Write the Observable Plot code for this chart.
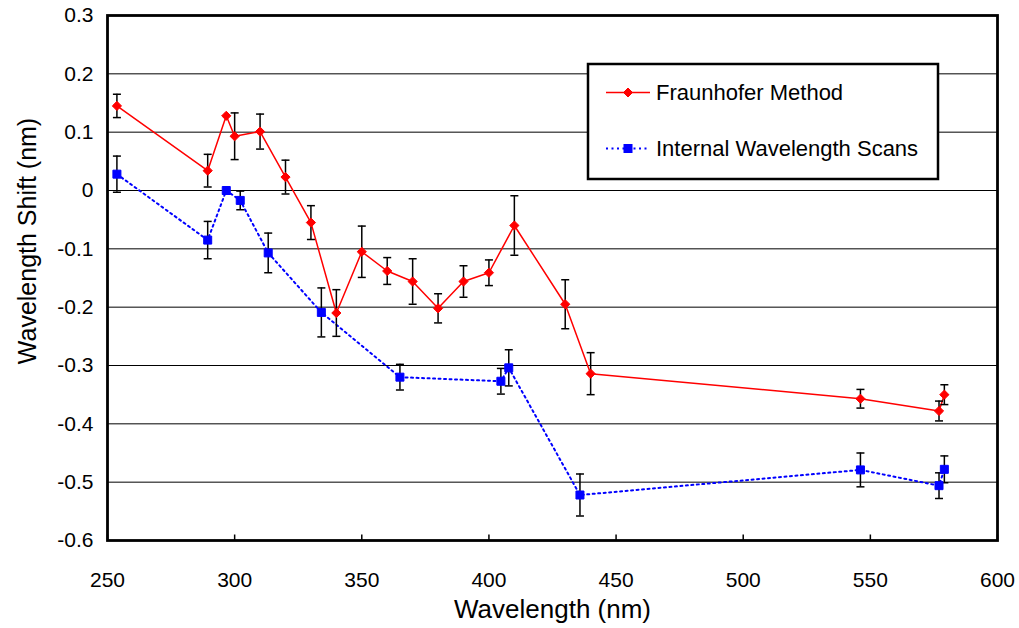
<!DOCTYPE html>
<html>
<head>
<meta charset="utf-8">
<script src="https://cdn.jsdelivr.net/npm/d3@7"></script>
<script src="https://cdn.jsdelivr.net/npm/@observablehq/plot@0.6"></script>
<style>
  html, body { margin: 0; padding: 0; background: #fff; }
  #wrap { position: relative; width: 1019px; height: 628px; font-family: "Liberation Sans", Arial, sans-serif; }
  #legend { position: absolute; left: 0; top: 0; }
</style>
</head>
<body>
<div id="wrap"></div>
<script>
// ---- data ----
const xTicks = [250, 300, 350, 400, 450, 500, 550, 600];
const yTicks = [0.3, 0.2, 0.1, 0, -0.1, -0.2, -0.3, -0.4, -0.5, -0.6];

const seriesNames = ["Fraunhofer Method", "Internal Wavelength Scans"];

const fraunWl    = [253.7, 289.4, 296.7, 300, 310, 320, 330, 340, 350, 360, 370, 380, 390, 400, 410, 430, 440, 546.1, 577.0, 579.1];
const fraunShift = [0.145, 0.034, 0.128, 0.093, 0.101, 0.023, -0.055, -0.210, -0.105, -0.138, -0.156, -0.202, -0.156, -0.141, -0.060, -0.195, -0.314, -0.357, -0.378, -0.350];
const fraunErr   = [0.020, 0.028, 0, 0.040, 0.030, 0.029, 0.029, 0.040, 0.044, 0.023, 0.039, 0.025, 0.027, 0.022, 0.051, 0.042, 0.036, 0.016, 0.017, 0.017];

const scanWl    = [253.7, 289.4, 296.7, 302.2, 313.2, 334.1, 365.0, 404.7, 407.8, 435.8, 546.1, 577.0, 579.1];
const scanShift = [0.028, -0.085, 0.000, -0.017, -0.107, -0.209, -0.320, -0.327, -0.304, -0.522, -0.479, -0.506, -0.478];
const scanErr   = [0.031, 0.032, 0, 0.016, 0.034, 0.042, 0.022, 0.022, 0.031, 0.036, 0.029, 0.022, 0.023];

// ---- build tables ----
const fraun = fraunWl.map((x, i) => ({x, y: fraunShift[i], e: fraunErr[i]}));
const scan = scanWl.map((x, i) => ({x, y: scanShift[i], e: scanErr[i]}));
const bars = [...fraun, ...scan].filter(d => d.e > 0);

const yMin = d3.min(yTicks), yMax = d3.max(yTicks);

// ---- custom symbols ----
const rad = s => Math.sqrt(s / Math.PI);
const diamond = {draw(c, s) { const r = rad(s); c.moveTo(0, -r); c.lineTo(r, 0); c.lineTo(0, r); c.lineTo(-r, 0); c.closePath(); }};
const square = {draw(c, s) { const r = rad(s); c.rect(-r, -r, 2 * r, 2 * r); }};
const cap = {draw(c, s) { const r = rad(s); c.moveTo(-r, 0); c.lineTo(r, 0); }};
const tickUp = {draw(c, s) { const r = rad(s); c.moveTo(0, 0); c.lineTo(0, -r); }};

const fmt = d => (Math.abs(d) < 1e-9 ? "0" : d.toFixed(1));
const FONT = "'Liberation Sans', Arial, sans-serif";

const chart = Plot.plot({
  width: 1019,
  height: 628,
  marginLeft: 107,
  marginRight: 22,
  marginTop: 15,
  marginBottom: 88,
  x: {domain: [d3.min(xTicks), d3.max(xTicks)]},
  y: {domain: [yMin, yMax]},
  style: {fontFamily: FONT, background: "#fff", color: "#000", overflow: "visible"},
  marks: [
    Plot.ruleY(yTicks, {stroke: "#000", strokeWidth: 1}),
    Plot.axisX({ticks: xTicks, tickSize: 0, tickPadding: 32, fontSize: 21, label: null}),
    Plot.axisY({ticks: yTicks, tickSize: 0, tickPadding: 14, fontSize: 21, tickFormat: fmt, label: null}),
    Plot.dot(xTicks, {x: d => d, y: () => yMin, symbol: tickUp, r: 6, stroke: "#000", strokeWidth: 1.5}),
    Plot.line(fraun, {x: "x", y: "y", stroke: "#ff0000", strokeWidth: 1.5}),
    Plot.line(scan, {x: "x", y: "y", stroke: "#0000ff", strokeWidth: 2, strokeDasharray: "2,3.5"}),
    Plot.ruleX(bars, {x: "x", y1: d => d.y - d.e, y2: d => d.y + d.e, stroke: "#000", strokeWidth: 1.5}),
    Plot.dot(bars, {x: "x", y: d => d.y + d.e, symbol: cap, r: 4, stroke: "#000", strokeWidth: 1.5}),
    Plot.dot(bars, {x: "x", y: d => d.y - d.e, symbol: cap, r: 4, stroke: "#000", strokeWidth: 1.5}),
    Plot.dot(fraun, {x: "x", y: "y", symbol: diamond, r: 4.6, fill: "#ff0000", stroke: "#ff0000", strokeWidth: 1}),
    Plot.dot(scan, {x: "x", y: "y", symbol: square, r: 4, fill: "#0000ff", stroke: "#0000ff", strokeWidth: 1}),
    Plot.frame({stroke: "#000", strokeWidth: 2.8}),
    Plot.text(["Wavelength (nm)"], {text: d => d, frameAnchor: "bottom", textAnchor: "middle", lineAnchor: "middle", dy: 69, fontSize: 26, fill: "#000", letterSpacing: "1.5px"}),
    Plot.text(["Wavelength Shift (nm)"], {text: d => d, frameAnchor: "left", textAnchor: "middle", lineAnchor: "middle", rotate: -90, dx: -80, dy: -37, fontSize: 25, fill: "#000"})
  ]
});

const wrap = document.getElementById("wrap");
wrap.appendChild(chart);

// ---- legend (overlay) ----
const NS = "http://www.w3.org/2000/svg";
const leg = document.createElementNS(NS, "svg");
leg.setAttribute("id", "legend");
leg.setAttribute("width", 1019);
leg.setAttribute("height", 628);
leg.style.pointerEvents = "none";
const lg = d3.select(leg);
lg.append("rect").attr("x", 588).attr("y", 64).attr("width", 350).attr("height", 115)
  .attr("fill", "#fff").attr("stroke", "#000").attr("stroke-width", 2.5);
const legItems = [
  {name: seriesNames[0], color: "#ff0000", dash: null, sw: 1.5, sym: "diamond", y: 92.5},
  {name: seriesNames[1], color: "#0000ff", dash: "2,3.5", sw: 2, sym: "square", y: 148.5}
];
legItems.forEach(it => {
  lg.append("line").attr("x1", 606).attr("x2", 650).attr("y1", it.y).attr("y2", it.y)
    .attr("stroke", it.color).attr("stroke-width", it.sw).attr("stroke-dasharray", it.dash);
  if (it.sym === "diamond") {
    lg.append("path").attr("d", `M628,${it.y - 4.5}L632.5,${it.y}L628,${it.y + 4.5}L623.5,${it.y}Z`)
      .attr("fill", it.color).attr("stroke", it.color);
  } else {
    lg.append("rect").attr("x", 624).attr("y", it.y - 4).attr("width", 8).attr("height", 8)
      .attr("fill", it.color).attr("stroke", it.color);
  }
  lg.append("text").attr("x", 656).attr("y", it.y + 7.5).attr("font-size", 22)
    .attr("font-family", FONT).attr("fill", "#000").text(it.name);
});
wrap.appendChild(leg);
</script>
</body>
</html>
